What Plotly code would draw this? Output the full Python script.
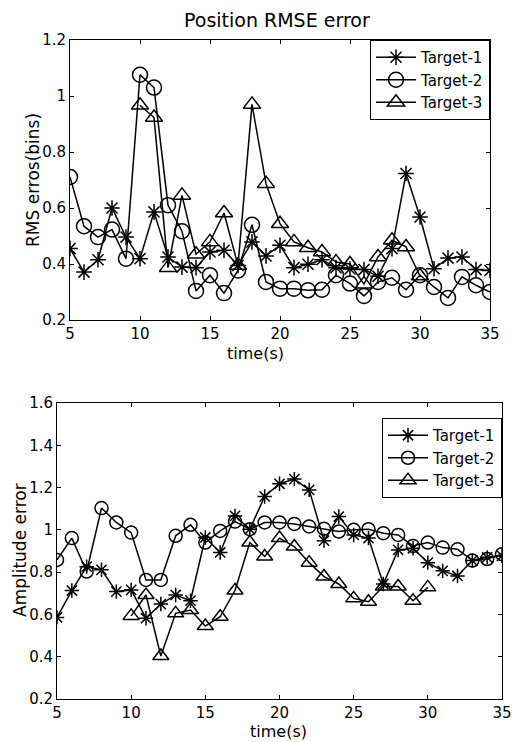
import plotly.graph_objects as go

# ---- data ----
time_all = list(range(5, 36))
time_t3 = list(range(10, 31))

rmse_t1 = [0.455, 0.371, 0.415, 0.600, 0.496, 0.419, 0.586, 0.425, 0.389, 0.387,
           0.443, 0.449, 0.395, 0.479, 0.429, 0.467, 0.387, 0.399, 0.415, 0.387,
           0.382, 0.380, 0.356, 0.455, 0.723, 0.568, 0.383, 0.421, 0.425, 0.380, 0.377]
rmse_t2 = [0.711, 0.535, 0.496, 0.523, 0.419, 1.076, 1.030, 0.610, 0.517, 0.304,
           0.360, 0.296, 0.377, 0.540, 0.336, 0.312, 0.312, 0.306, 0.308, 0.360,
           0.330, 0.286, 0.336, 0.351, 0.308, 0.360, 0.318, 0.279, 0.354, 0.324, 0.300]
rmse_t3 = [0.967, 0.923, 0.387, 0.645, 0.435, 0.479, 0.582, 0.395, 0.970, 0.687,
           0.544, 0.479, 0.458, 0.443, 0.407, 0.400, 0.328, 0.425, 0.485, 0.461, 0.357]

amp_t1 = [0.586, 0.713, 0.826, 0.811, 0.708, 0.716, 0.582, 0.649, 0.692, 0.665,
          0.964, 0.893, 1.066, 1.003, 1.158, 1.218, 1.240, 1.189, 0.949, 1.063,
          0.976, 0.961, 0.744, 0.905, 0.913, 0.845, 0.806, 0.782, 0.855, 0.870, 0.877]
amp_t2 = [0.858, 0.961, 0.803, 1.103, 1.035, 0.987, 0.763, 0.763, 0.972, 1.024,
          0.940, 0.995, 1.039, 1.003, 1.035, 1.035, 1.028, 1.016, 1.005, 0.992,
          1.000, 1.003, 0.984, 0.976, 0.924, 0.940, 0.916, 0.908, 0.855, 0.862, 0.885]
amp_t3 = [0.593, 0.692, 0.403, 0.605, 0.621, 0.545, 0.589, 0.713, 0.940, 0.874,
          0.961, 0.921, 0.845, 0.779, 0.744, 0.676, 0.660, 0.732, 0.732, 0.665, 0.728]

names = ["Target-1", "Target-2", "Target-3"]
symbols = ["asterisk-open", "circle-open", "triangle-up-open"]

x_ticks = [5, 10, 15, 20, 25, 30, 35]
top_yticks = [0.2, 0.4, 0.6, 0.8, 1.0, 1.2]
top_ytext = ["0.2", "0.4", "0.6", "0.8", "1", "1.2"]
bot_yticks = [0.2, 0.4, 0.6, 0.8, 1.0, 1.2, 1.4, 1.6]
bot_ytext = ["0.2", "0.4", "0.6", "0.8", "1", "1.2", "1.4", "1.6"]

W, H = 512, 742
FONT = "DejaVu Sans"

fig = go.Figure()

top_x = [time_all, time_all, time_t3]
top_y = [rmse_t1, rmse_t2, rmse_t3]
top_sizes = [13, 15, 15]
for i in range(3):
    fig.add_trace(go.Scatter(
        x=top_x[i], y=top_y[i], mode="lines+markers", name=names[i],
        line=dict(color="black", width=1.5),
        marker=dict(symbol=symbols[i], size=top_sizes[i], color="black",
                    line=dict(color="black", width=1.5)),
        xaxis="x", yaxis="y", legend="legend"))

bot_x = [time_all, time_all, time_t3]
bot_y = [amp_t1, amp_t2, amp_t3]
bot_sizes = [12, 13, 14]
for i in range(3):
    fig.add_trace(go.Scatter(
        x=bot_x[i], y=bot_y[i], mode="lines+markers", name=names[i],
        line=dict(color="black", width=1.5),
        marker=dict(symbol=symbols[i], size=bot_sizes[i], color="black",
                    line=dict(color="black", width=1.5)),
        xaxis="x2", yaxis="y2", legend="legend2"))

def px_x(p):
    return p / W

def px_y(p):
    return 1 - p / H

axis_common = dict(showline=True, linecolor="black", linewidth=1, mirror="ticks",
                   ticks="inside", ticklen=4, tickcolor="black", showgrid=False,
                   zeroline=False, tickfont=dict(family=FONT, size=15, color="black"),
                   automargin=False)

legend_common = dict(xanchor="right", yanchor="top", bordercolor="black", borderwidth=1,
                     bgcolor="white", font=dict(family=FONT, size=15, color="black"),
                     tracegroupgap=0, itemwidth=40)

fig.update_layout(
    width=W, height=H, margin=dict(l=0, r=0, t=0, b=0),
    paper_bgcolor="white", plot_bgcolor="white",
    font=dict(family=FONT, color="black"),
    xaxis=dict(domain=[px_x(70), px_x(490)], range=[5, 35], tickvals=x_ticks,
               anchor="y", **axis_common),
    yaxis=dict(domain=[px_y(320), px_y(40)], range=[0.2, 1.2], tickvals=top_yticks,
               ticktext=top_ytext, anchor="x", **axis_common),
    xaxis2=dict(domain=[px_x(57), px_x(502)], range=[5, 35], tickvals=x_ticks,
                anchor="y2", **axis_common),
    yaxis2=dict(domain=[px_y(699), px_y(403)], range=[0.2, 1.6], tickvals=bot_yticks,
                ticktext=bot_ytext, anchor="x2", **axis_common),
    legend=dict(x=px_x(490), y=px_y(40), **legend_common),
    legend2=dict(x=px_x(502), y=px_y(418), **legend_common),
    annotations=[
        dict(text="Position RMSE error", x=px_x(277), y=px_y(20), xref="paper", yref="paper",
             showarrow=False, font=dict(family=FONT, size=19, color="black"),
             xanchor="center", yanchor="middle"),
        dict(text="time(s)", x=px_x(255), y=px_y(353), xref="paper", yref="paper",
             showarrow=False, font=dict(family=FONT, size=16, color="black"),
             xanchor="center", yanchor="middle"),
        dict(text="RMS erros(bins)", x=px_x(33), y=px_y(180), xref="paper", yref="paper",
             showarrow=False, textangle=-90, font=dict(family=FONT, size=17, color="black"),
             xanchor="center", yanchor="middle"),
        dict(text="time(s)", x=px_x(278), y=px_y(731), xref="paper", yref="paper",
             showarrow=False, font=dict(family=FONT, size=16, color="black"),
             xanchor="center", yanchor="middle"),
        dict(text="Amplitude error", x=px_x(20), y=px_y(550), xref="paper", yref="paper",
             showarrow=False, textangle=-90, font=dict(family=FONT, size=17, color="black"),
             xanchor="center", yanchor="middle"),
    ],
)

# Remove the browser's default 8px body margin so the figure fills the window.
fig.write_html("out.html", config={"displayModeBar": False},
               post_script="document.body.style.margin='0';document.body.style.overflow='hidden';")
